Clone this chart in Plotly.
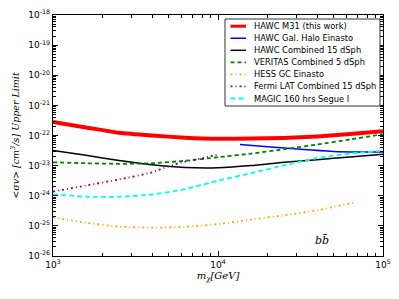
import plotly.graph_objects as go

# ---- data ----
red_x = [1e3, 1.585e3, 2.512e3, 3.981e3, 6.31e3, 1e4, 1.585e4, 2.512e4, 3.981e4, 6.31e4, 1e5]
red_y = [2.8e-22, 1.85e-22, 1.23e-22, 1.0e-22, 8.5e-23, 7.8e-23, 7.9e-23, 8.3e-23, 9.3e-23, 1.12e-22, 1.38e-22]

blue_x = [1.36e4, 2.0e4, 3.16e4, 5.0e4, 7.08e4, 1e5]
blue_y = [5.0e-23, 4.27e-23, 3.47e-23, 2.95e-23, 2.82e-23, 2.82e-23]

black_x = red_x
black_y = [3.2e-23, 2.2e-23, 1.48e-23, 1.07e-23, 8.7e-24, 8.5e-24, 1.0e-23, 1.29e-23, 1.58e-23, 1.95e-23, 2.4e-23]

green_x = red_x
green_y = [1.29e-23, 1.2e-23, 1.15e-23, 1.2e-23, 1.45e-23, 1.9e-23, 2.5e-23, 3.5e-23, 5.0e-23, 7.4e-23, 1.1e-22]

orange_x = [1e3, 1.585e3, 2.512e3, 3.981e3, 6.31e3, 1e4, 1.585e4, 2.512e4, 3.981e4, 6.76e4]
orange_y = [1.95e-25, 1.26e-25, 9.5e-26, 8.7e-26, 9.3e-26, 1.15e-25, 1.62e-25, 2.24e-25, 3.3e-25, 6.0e-25]

purple_x = [1e3, 1.585e3, 2.512e3, 3.981e3, 5.01e3, 6.31e3, 7.94e3, 1e4]
purple_y = [1.38e-24, 2.19e-24, 3.47e-24, 6.0e-24, 9.5e-24, 1.35e-23, 1.74e-23, 2.34e-23]

cyan_x = red_x
cyan_y = [1.12e-24, 9.3e-25, 9.3e-25, 1.1e-24, 1.66e-24, 3.16e-24, 5.6e-24, 1.02e-23, 1.78e-23, 2.5e-23, 3.1e-23]

names = ["HAWC M31 (this work)", "HAWC Gal. Halo Einasto", "HAWC Combined 15 dSph",
         "VERITAS Combined 5 dSph", "HESS GC Einasto", "Fermi LAT Combined 15 dSph",
         "MAGIC 160 hrs Segue I"]

x_ticks = [1e3, 1e4, 1e5]
x_ticktext = ["10<sup>3</sup>", "10<sup>4</sup>", "10<sup>5</sup>"]
y_ticks = [10.0 ** e for e in range(-26, -17)]
y_ticktext = ["10<sup>%d</sup>" % e for e in range(-26, -17)]
x_minor = [m * 10.0 ** e for e in (3, 4) for m in range(2, 10)]
y_minor = [m * 10.0 ** e for e in range(-26, -18) for m in range(2, 10)]

series = [
    (red_x, red_y, "red", 4, "solid"),
    (blue_x, blue_y, "blue", 1.5, "solid"),
    (black_x, black_y, "black", 1.5, "solid"),
    (green_x, green_y, "green", 1.8, "4px,3px"),
    (orange_x, orange_y, "orange", 1.8, "2px,3px,1px,3px"),
    (purple_x, purple_y, "purple", 1.8, "2px,3px,1px,3px"),
    (cyan_x, cyan_y, "cyan", 1.8, "5px,3px"),
]

fig = go.Figure()
for (xs, ys, col, w, dash), nm in zip(series, names):
    fig.add_trace(go.Scatter(x=xs, y=ys, mode="lines", name=nm, showlegend=False,
                             line=dict(color=col, width=w, dash=dash, shape="spline", smoothing=0.6)))

# ---- hand-built legend (compact, matplotlib-like) ----
W, H = 399, 299
ml, mr, mt, mb = 53, 16, 15, 43
pw, ph = W - ml - mr, H - mt - mb
def px(xp):
    return (xp - ml) / pw
def py(yp):
    return (H - mb - yp) / ph

box = dict(x0=225, x1=380, y0=19, y1=106)
fig.add_shape(type="rect", xref="paper", yref="paper",
              x0=px(box["x0"]), x1=px(box["x1"]), y0=py(box["y1"]), y1=py(box["y0"]),
              line=dict(color="#333333", width=1), fillcolor="white", layer="above")
row0, step = 26.2, 12.05
for i, ((xs, ys, col, w, dash), nm) in enumerate(zip(series, names)):
    yy = py(row0 + i * step)
    fig.add_shape(type="line", xref="paper", yref="paper",
                  x0=px(230.5), x1=px(246), y0=yy, y1=yy,
                  line=dict(color=col, width=min(w, 3), dash=dash), layer="above")
    fig.add_annotation(xref="paper", yref="paper", x=px(252.5), y=yy, text=nm,
                       xanchor="left", yanchor="middle", showarrow=False, borderpad=0,
                       font=dict(size=8.3, color="black", family="DejaVu Sans"))

fig.add_annotation(x=4.63, y=-25.5, xref="x", yref="y", text="<i>bb\u0304</i>",
                   showarrow=False, font=dict(size=11, color="black", family="DejaVu Serif"))

axis_common = dict(type="log", showgrid=False, zeroline=False, showline=True, linecolor="black",
                   linewidth=1.3, mirror="ticks", ticks="inside", ticklen=5, tickcolor="black",
                   automargin=False, ticklabeloverflow="allow",
                   tickfont=dict(size=9, color="black", family="DejaVu Sans"))

fig.update_xaxes(range=[3, 5], tickmode="array", tickvals=x_ticks, ticktext=x_ticktext,
                 minor=dict(tickmode="array", tickvals=x_minor, ticks="inside", ticklen=2.5,
                            tickcolor="black", showgrid=False),
                 title=dict(text="<i>m<sub>\u03c7</sub>[GeV]</i>", standoff=2,
                            font=dict(size=10, color="black", family="DejaVu Serif")),
                 **axis_common)
fig.update_yaxes(range=[-26, -18], tickmode="array", tickvals=y_ticks, ticktext=y_ticktext,
                 minor=dict(tickmode="array", tickvals=y_minor, ticks="inside", ticklen=2.5,
                            tickcolor="black", showgrid=False),
                 title=dict(text="<i>&lt;\u03c3v&gt; [cm<sup>3</sup>/s] Upper Limit</i>", standoff=6,
                            font=dict(size=9.5, color="black", family="DejaVu Serif")),
                 **axis_common)

fig.update_layout(
    width=W, height=H,
    margin=dict(l=ml, r=mr, t=mt, b=mb),
    paper_bgcolor="white", plot_bgcolor="white",
    showlegend=False,
)

fig.write_html("out.html", config={"displayModeBar": False},
               post_script="document.body.style.margin='0';")
